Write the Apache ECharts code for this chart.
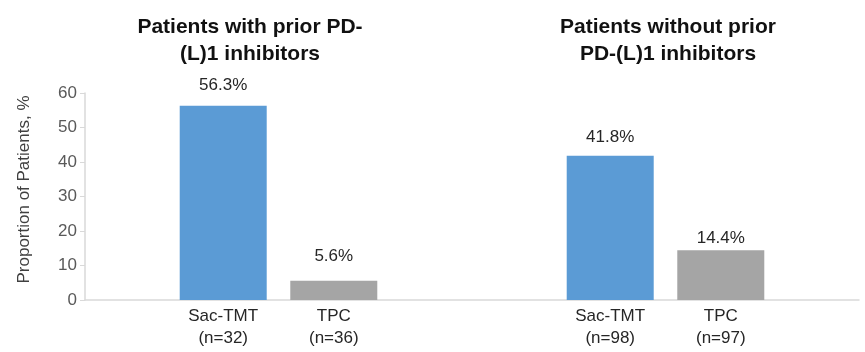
<!DOCTYPE html>
<html>
<head>
<meta charset="utf-8">
<script src="https://cdn.jsdelivr.net/npm/echarts@6/dist/echarts.min.js"></script>
<style>html,body{margin:0;padding:0;background:#fff}#c{width:865px;height:352px}</style>
</head>
<body>
<div id="c"></div>
<script>
// Data
var groupTitles = ['Patients with prior PD-\n(L)1 inhibitors', 'Patients without prior\nPD-(L)1 inhibitors'];
var categories = ['Sac-TMT\n(n=32)', 'TPC\n(n=36)', 'Sac-TMT\n(n=98)', 'TPC\n(n=97)'];
var values = [56.3, 5.6, 41.8, 14.4];
var yTicks = [0, 10, 20, 30, 40, 50, 60];

// layout helpers (slot positions on the category axis)
var slotCount = 14;
var slotIndex = [2, 4, 9, 11];
var colors = ['#5B9BD5', '#A5A5A5', '#5B9BD5', '#A5A5A5'];
var labelDist = [12, 16, 10, 4];

var slotCats = [];
var slotData = [];
for (var i = 0; i < slotCount; i++) { slotCats.push(''); slotData.push('-'); }
for (var k = 0; k < categories.length; k++) {
  slotCats[slotIndex[k]] = categories[k];
  slotData[slotIndex[k]] = {
    value: values[k],
    itemStyle: { color: colors[k] },
    label: { distance: labelDist[k] }
  };
}

var FF = 'Liberation Sans, Arial, sans-serif';
var chart = echarts.init(document.getElementById('c'));
chart.setOption({
  animation: false,
  title: [
    { text: groupTitles[0], left: 245, top: 9, textAlign: 'center',
      textStyle: { fontFamily: FF, fontSize: 21, fontWeight: 'bold', color: '#111', lineHeight: 27 } },
    { text: groupTitles[1], left: 663, top: 9, textAlign: 'center',
      textStyle: { fontFamily: FF, fontSize: 21, fontWeight: 'bold', color: '#111', lineHeight: 27 } }
  ],
  grid: { left: 85, right: 6, top: 93, bottom: 52, containLabel: false },
  xAxis: {
    type: 'category',
    data: slotCats,
    axisLine: { lineStyle: { color: '#d9d9d9', width: 1.5 } },
    axisTick: { show: false },
    axisLabel: { interval: 0, margin: 5, fontFamily: FF, fontSize: 17, color: '#262626', lineHeight: 22 }
  },
  yAxis: {
    type: 'value',
    min: yTicks[0], max: yTicks[yTicks.length - 1], interval: 10,
    name: 'Proportion of Patients, %',
    nameLocation: 'middle',
    nameGap: 52,
    nameTextStyle: { fontFamily: FF, fontSize: 17, color: '#404040', padding: [0, 0, 0, 14] },
    axisLine: { show: true, lineStyle: { color: '#d9d9d9', width: 1.5 } },
    axisTick: { show: true, length: 5, lineStyle: { color: '#d9d9d9' } },
    splitLine: { show: false },
    axisLabel: { margin: 8, fontFamily: FF, fontSize: 17, color: '#595959' }
  },
  series: [{
    type: 'bar',
    data: slotData,
    barWidth: 87,
    label: {
      show: true, position: 'top',
      formatter: function (p) { return p.value.toFixed(1) + '%'; },
      fontFamily: FF, fontSize: 17, color: '#262626'
    }
  }]
});
</script>
</body>
</html>
